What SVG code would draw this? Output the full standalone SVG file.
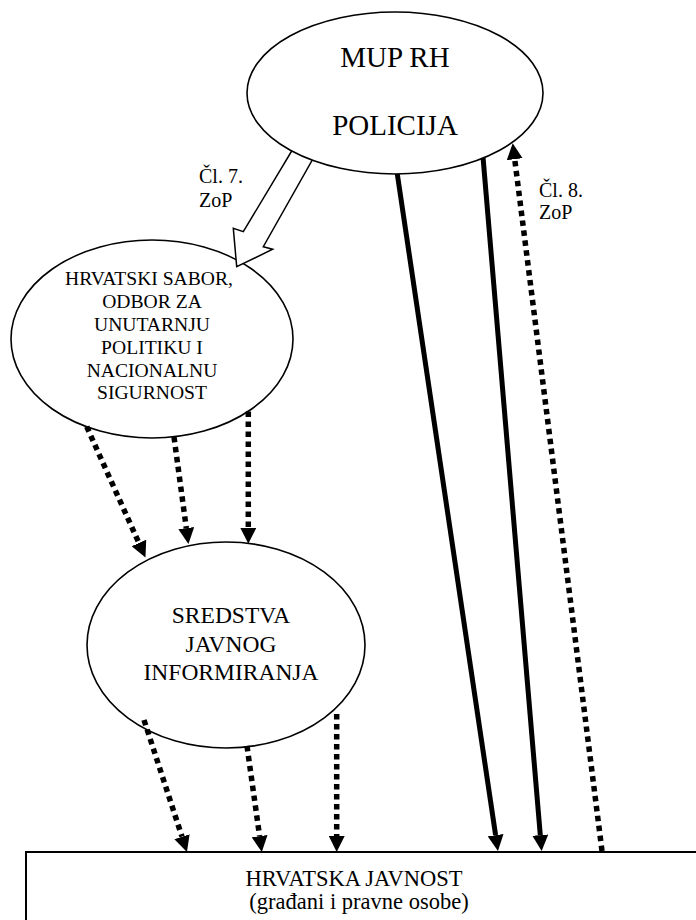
<svg xmlns="http://www.w3.org/2000/svg" width="696" height="920" viewBox="0 0 696 920" font-family="Liberation Serif, DejaVu Serif, serif">
<style>
.node{fill:#fff;stroke:#000;stroke-width:1.6}
.solid{stroke:#000;stroke-width:5;fill:none}
.dash{stroke:#000;stroke-width:5.5;stroke-dasharray:5.5 4.5;fill:none}
.mid{text-anchor:middle}
.t{font-family:'Liberation Serif',serif;fill:#000}
</style>
<defs>
<marker id="head" markerUnits="userSpaceOnUse" viewBox="0 0 16 16" refX="0" refY="8" markerWidth="16" markerHeight="16" orient="auto">
<path d="M0,0 L16,8 L0,16 Z" fill="#000"/>
</marker>
</defs>
<rect width="696" height="920" fill="#fff"/>
<g id="javnost">
<rect class="node" x="26" y="852" width="700" height="100" style="stroke-width:2"/>
<text class="t mid" x="354" y="886" font-size="22.5">HRVATSKA JAVNOST</text>
<text class="t mid" x="359" y="909" font-size="22.5">(građani i pravne osobe)</text>
</g>
<g id="sabor">
<ellipse class="node" cx="152" cy="339" rx="141" ry="99"/>
<text class="t mid" x="149" y="285" font-size="19.6">HRVATSKI SABOR,</text>
<text class="t mid" x="152" y="308" font-size="19.6">ODBOR ZA</text>
<text class="t mid" x="152" y="331" font-size="19.6">UNUTARNJU</text>
<text class="t mid" x="152" y="354" font-size="19.6">POLITIKU I</text>
<text class="t mid" x="152" y="377" font-size="19.6">NACIONALNU</text>
<text class="t mid" x="152" y="399" font-size="19.6">SIGURNOST</text>
</g>
<g id="sredstva">
<ellipse class="node" cx="226" cy="645" rx="139" ry="103"/>
<text class="t mid" x="231" y="623" font-size="23.5">SREDSTVA</text>
<text class="t mid" x="231" y="652" font-size="23.5">JAVNOG</text>
<text class="t mid" x="231" y="680" font-size="23.5">INFORMIRANJA</text>
</g>
<g id="connectors">
<polygon points="298.3,140 243.3,231.7 233.3,228.3 236.7,266.7 272.7,249.3 263.3,246.7 317.6,150.6" fill="#fff" stroke="#000" stroke-width="1.5" stroke-linejoin="miter"/>
<line class="solid" x1="397" y1="172" x2="495.6" y2="835.2" marker-end="url(#head)"/>
<line class="solid" x1="483" y1="157" x2="540.3" y2="835.1" marker-end="url(#head)"/>
<line class="dash" x1="602" y1="851" x2="514.7" y2="159.2" marker-end="url(#head)"/>
<line class="dash" x1="86.7" y1="426.7" x2="138.9" y2="543" marker-end="url(#head)"/>
<line class="dash" x1="174" y1="437" x2="186.3" y2="528.1" marker-end="url(#head)"/>
<line class="dash" x1="248.3" y1="411.5" x2="248.3" y2="527.8" marker-end="url(#head)"/>
<line class="dash" x1="144" y1="720" x2="182" y2="836.7" marker-end="url(#head)"/>
<line class="dash" x1="247" y1="746" x2="259.6" y2="836.2" marker-end="url(#head)"/>
<line class="dash" x1="336.7" y1="714" x2="336.7" y2="836" marker-end="url(#head)"/>
<text class="t" x="199" y="183" font-size="20">Čl. 7.</text>
<text class="t" x="199" y="207" font-size="20">ZoP</text>
<text class="t" x="539" y="197" font-size="20">Čl. 8.</text>
<text class="t" x="539" y="219" font-size="20">ZoP</text>
</g>
<g id="mup">
<ellipse class="node" cx="395" cy="93" rx="148" ry="81"/>
<text class="t mid" x="395" y="67" font-size="29">MUP RH</text>
<text class="t mid" x="395" y="135" font-size="29">POLICIJA</text>
</g>
</svg>
